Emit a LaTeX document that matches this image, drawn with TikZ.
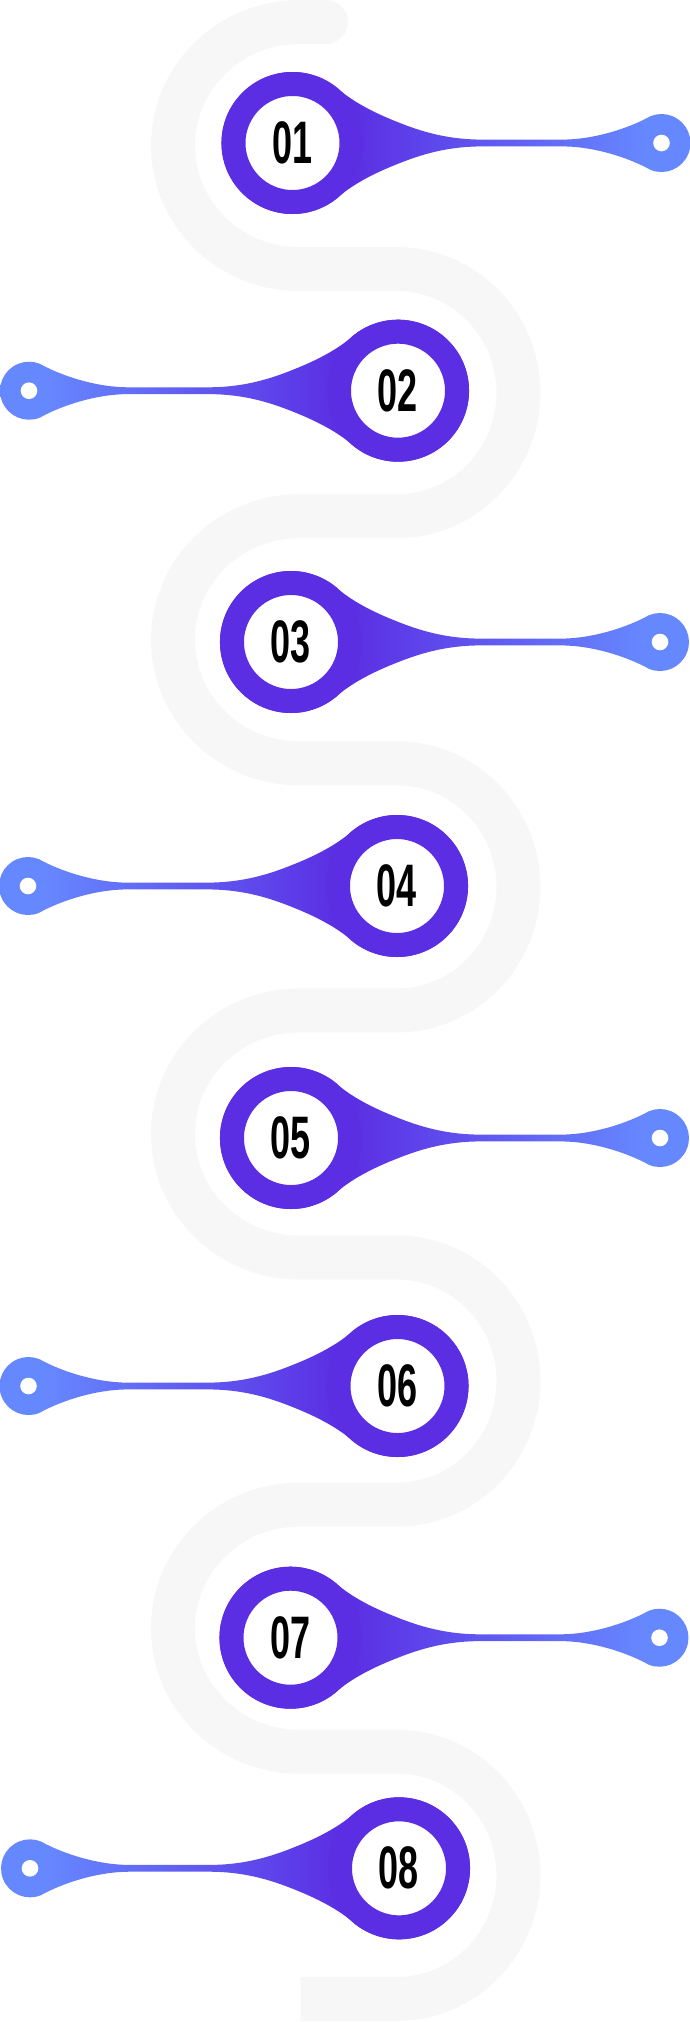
\documentclass[tikz,border=0pt]{standalone}
\usepackage{fontspec}
\newfontfamily\numfont[FakeStretch=0.6]{Liberation Sans}
\usepackage{xcolor}

\definecolor{pathgray}{HTML}{F7F7F7}
\definecolor{markpurple}{HTML}{5B2DE3}
\definecolor{markblue}{HTML}{6688FF}
\pgfdeclarehorizontalshading{markshade}{100bp}{color(0bp)=(markpurple); color(39bp)=(markpurple); color(70bp)=(markblue); color(100bp)=(markblue)}

% #1 name, #2 x, #3 y, #4 side (1 = tail right, -1 = tail left), #5 number
\newcommand{\stepmarker}[5]{%
    \shade[shading=markshade, shading angle={90-90*(#4)}]
        ({#2+45.6*(#4)},{#3-54.4})
        arc[start angle={-90+40*(#4)}, end angle={-90-220*(#4)}, radius=71]
        .. controls ({#2+58*(#4)},{#3+43}) and ({#2+78*(#4)},{#3+32}) .. ({#2+100*(#4)},{#3+23})
        .. controls ({#2+122*(#4)},{#3+14}) and ({#2+150*(#4)},{#3+3.4}) .. ({#2+190*(#4)},{#3+3.4})
        -- ({#2+270*(#4)},{#3+3.4})
        .. controls ({#2+300*(#4)},{#3+3.4}) and ({#2+335*(#4)},{#3+14}) .. ({#2+358.1*(#4)},{#3+26.9})
        arc[start angle={90+22*(#4)}, end angle={90-202*(#4)}, radius=29]
        .. controls ({#2+335*(#4)},{#3-14}) and ({#2+300*(#4)},{#3-3.4}) .. ({#2+270*(#4)},{#3-3.4})
        -- ({#2+190*(#4)},{#3-3.4})
        .. controls ({#2+150*(#4)},{#3-3.4}) and ({#2+122*(#4)},{#3-14}) .. ({#2+100*(#4)},{#3-23})
        .. controls ({#2+78*(#4)},{#3-32}) and ({#2+58*(#4)},{#3-43}) .. cycle;
    \node[numring] (ring#1) at (#2,#3) {#5};
    \node[enddot] (dot#1) at ({#2+369*(#4)},#3) {};
}

\begin{document}
\begin{tikzpicture}[x=1pt, y=-1pt,
    numring/.style={circle, draw=markpurple, line width=24pt, fill=white, minimum size=118pt, inner sep=0pt,
        font=\numfont\bfseries\fontsize{60pt}{60pt}\selectfont},
    enddot/.style={circle, fill=white, minimum size=16.6pt, inner sep=0pt}]
        \useasboundingbox (0,0) rectangle (690,2022);

        % winding gray track
        \fill[pathgray] (326,22) circle (22);
        \draw[pathgray, line width=44pt] (326,22) -- (299,22)
            arc[start angle=-90, end angle=-270, x radius=126, y radius=123.55] -- (397,269.1)
            arc[start angle=-90, end angle=90, x radius=121.4, y radius=123.55] -- (299,516.2)
            arc[start angle=-90, end angle=-270, x radius=126, y radius=123.55] -- (397,763.3)
            arc[start angle=-90, end angle=90, x radius=121.4, y radius=123.55] -- (299,1010.4)
            arc[start angle=-90, end angle=-270, x radius=126, y radius=123.55] -- (397,1257.5)
            arc[start angle=-90, end angle=90, x radius=121.4, y radius=123.55] -- (299,1504.6)
            arc[start angle=-90, end angle=-270, x radius=126, y radius=123.55] -- (397,1751.7)
            arc[start angle=-90, end angle=90, x radius=121.4, y radius=123.55] -- (300.5,1998.8);

        % numbered markers (odd ones point right, even ones point left)
        \stepmarker{1}{292.5}{143}{1}{01}
        \stepmarker{2}{398}{390.7}{-1}{02}
        \stepmarker{3}{291}{642}{1}{03}
        \stepmarker{4}{397}{886}{-1}{04}
        \stepmarker{5}{291}{1138}{1}{05}
        \stepmarker{6}{397.5}{1386}{-1}{06}
        \stepmarker{7}{290.5}{1637.7}{1}{07}
        \stepmarker{8}{399}{1868.3}{-1}{08}
    \end{tikzpicture}
\end{document}
